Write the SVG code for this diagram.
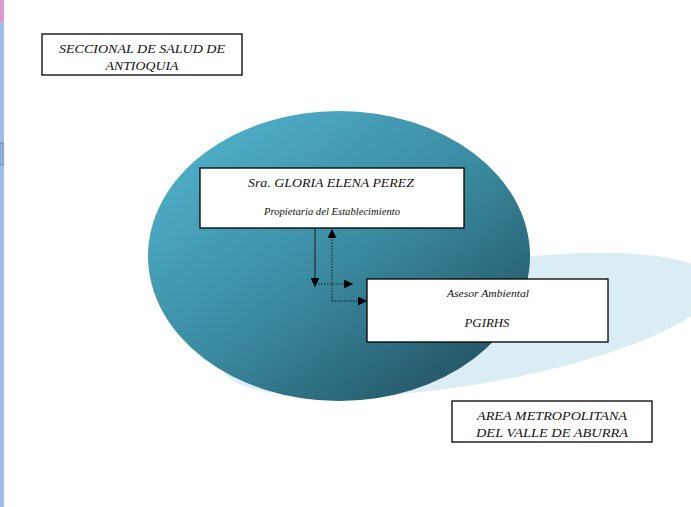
<svg xmlns="http://www.w3.org/2000/svg" width="691" height="507" viewBox="0 0 691 507">
<defs>
<linearGradient id="tealGrad" x1="0.15" y1="0.15" x2="0.85" y2="0.9">
<stop offset="0" stop-color="#4cabc4"/>
<stop offset="0.5" stop-color="#3a8aa0"/>
<stop offset="1" stop-color="#245768"/>
</linearGradient>
<marker id="arr" viewBox="0 0 10 10" refX="10" refY="5" markerWidth="9" markerHeight="9" markerUnits="userSpaceOnUse" orient="auto">
<path d="M0,0 L10,5 L0,10 Z" fill="#000"/>
</marker>
<style>
.box{fill:#fff;stroke:#000;stroke-width:1.3}
.t{font-family:"Liberation Serif","Times New Roman",serif;font-style:italic;fill:#111;text-anchor:middle}
.solid{stroke:#1a1a1a;stroke-width:1;fill:none}
.dot{stroke:#1a1a1a;stroke-width:1;stroke-dasharray:1.5 1.5;fill:none}
</style>
</defs>
<rect x="0" y="0" width="691" height="507" fill="#fff"/>
<rect x="0" y="0" width="4" height="22" fill="#d99ad0"/>
<rect x="0" y="22" width="4" height="485" fill="#a2bde3"/>
<rect x="0" y="143" width="3" height="22" fill="none" stroke="#5a80c0" stroke-width="0.8"/>
<ellipse cx="468" cy="325" rx="250" ry="60" transform="rotate(-9.5 468 325)" fill="#daedf3"/>
<ellipse cx="339" cy="256" rx="191" ry="145" fill="url(#tealGrad)"/>
<g id="seccional">
<rect class="box" x="42" y="34" width="200" height="41"/>
<text class="t" x="142" y="53" font-size="12.5" textLength="166" lengthAdjust="spacingAndGlyphs">SECCIONAL DE SALUD DE</text>
<text class="t" x="142" y="70" font-size="12.5" textLength="73" lengthAdjust="spacingAndGlyphs">ANTIOQUIA</text>
</g>
<g id="gloria">
<rect class="box" x="200" y="168" width="264" height="60"/>
<text class="t" x="331" y="187" font-size="12.5" textLength="166" lengthAdjust="spacingAndGlyphs">Sra.  GLORIA ELENA PEREZ</text>
<text class="t" x="332" y="215" font-size="10.5" textLength="136" lengthAdjust="spacingAndGlyphs">Propietaria del Establecimiento</text>
</g>
<g id="asesor">
<rect class="box" x="367" y="279" width="241" height="63"/>
<text class="t" x="488" y="297" font-size="10.5" textLength="82" lengthAdjust="spacingAndGlyphs">Asesor Ambiental</text>
<text class="t" x="487" y="327" font-size="12.5" textLength="45" lengthAdjust="spacingAndGlyphs">PGIRHS</text>
</g>
<g id="area">
<rect class="box" x="452" y="401" width="200" height="41"/>
<text class="t" x="552" y="420" font-size="12.5" textLength="150" lengthAdjust="spacingAndGlyphs">AREA  METROPOLITANA</text>
<text class="t" x="552" y="437" font-size="12.5" textLength="152" lengthAdjust="spacingAndGlyphs">DEL VALLE  DE ABURRA</text>
</g>
<g id="connectors">
<path class="solid" d="M315,228 L315,287" marker-end="url(#arr)"/>
<path class="dot" d="M315,284 L353,284" marker-end="url(#arr)"/>
<path class="dot" d="M332,301 L332,229" marker-end="url(#arr)"/>
<path class="dot" d="M332,301 L367,301" marker-end="url(#arr)"/>
</g>
</svg>
